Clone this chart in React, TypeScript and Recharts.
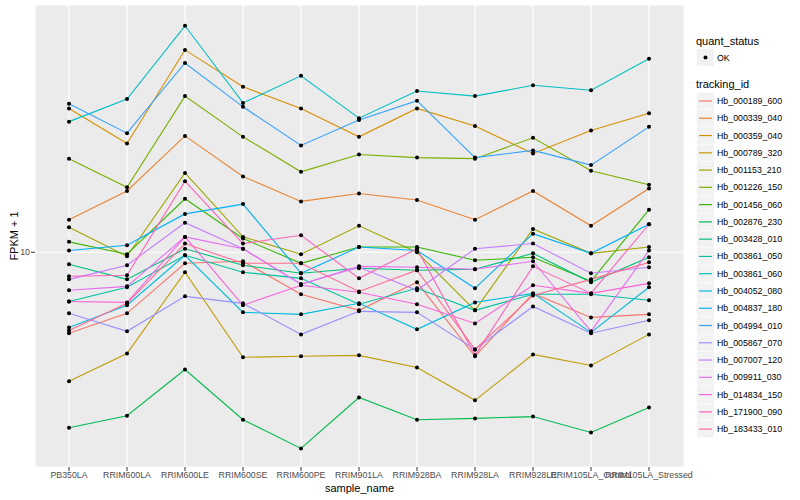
import React from 'react';
import { LineChart, Line, XAxis, YAxis, CartesianGrid } from 'recharts';

const samples = [
  'PB350LA',
  'RRIM600LA',
  'RRIM600LE',
  'RRIM600SE',
  'RRIM600PE',
  'RRIM901LA',
  'RRIM928BA',
  'RRIM928LA',
  'RRIM928LE',
  'RRIM105LA_Control',
  'RRIM105LA_Stressed',
];

// FPKM + 1, one array per gene, in sample order
const hb000189_600 = [6.35, 7.1, 9.4, 9.51, 7.9, 7.22, 8.45, 5.58, 7.94, 6.94, 7.06];
const hb000339_040 = [12.0, 14.1, 19.2, 15.3, 13.3, 13.9, 13.4, 12.0, 14.1, 11.6, 14.3];
const hb000359_040 = [22.4, 18.4, 31.1, 25.3, 22.4, 19.1, 22.4, 20.3, 17.4, 19.8, 21.8];
const hb000789_320 = [4.85, 5.67, 8.94, 5.55, 5.58, 5.61, 5.24, 4.36, 5.64, 5.3, 6.31];
const hb001153_210 = [11.5, 9.78, 15.6, 10.9, 9.89, 11.6, 10.0, 7.22, 11.4, 9.94, 10.3];
const hb001226_150 = [16.9, 14.4, 24.0, 19.1, 15.7, 17.3, 17.0, 16.9, 19.0, 15.8, 14.6];
const hb001456_060 = [10.6, 9.89, 13.5, 10.8, 9.4, 10.3, 10.3, 9.56, 9.72, 8.5, 12.7];
const hb002876_230 = [3.74, 4.0, 5.18, 3.91, 3.33, 4.43, 3.91, 3.94, 3.98, 3.64, 4.19];
const hb003428_010 = [9.35, 8.59, 10.2, 9.3, 8.89, 9.14, 9.04, 9.09, 9.94, 8.45, 9.72];
const hb003861_050 = [7.59, 8.22, 9.83, 8.94, 8.64, 7.47, 8.17, 7.22, 7.9, 7.9, 7.64];
const hb003861_060 = [20.8, 23.6, 35.6, 23.1, 26.9, 21.2, 24.7, 24.0, 25.5, 24.8, 29.6];
const hb004052_080 = [6.56, 7.43, 9.83, 7.14, 7.06, 7.51, 6.49, 7.55, 7.94, 6.38, 8.22];
const hb004837_180 = [10.1, 10.4, 12.4, 13.1, 8.89, 10.3, 10.1, 8.17, 11.1, 9.94, 11.7];
const hb004994_010 = [23.0, 19.5, 28.9, 22.6, 18.2, 21.0, 23.4, 17.0, 17.7, 16.3, 20.2];
const hb005867_070 = [7.1, 6.42, 7.81, 7.51, 6.31, 7.18, 7.14, 5.8, 7.38, 6.35, 6.83];
const hb007007_120 = [8.59, 9.3, 11.8, 10.2, 8.36, 9.19, 8.08, 10.2, 10.5, 8.89, 9.19];
const hb009911_030 = [8.08, 8.26, 10.9, 10.2, 8.36, 9.24, 9.19, 9.09, 9.51, 6.42, 10.1];
const hb014834_150 = [7.59, 7.55, 10.9, 7.43, 8.31, 7.99, 7.47, 6.71, 8.31, 7.94, 8.4];
const hb171900_090 = [8.74, 8.79, 14.9, 10.5, 11.0, 8.64, 10.2, 5.61, 9.24, 7.94, 11.7];
const hb183433_010 = [6.45, 7.51, 10.5, 9.4, 9.4, 8.03, 9.04, 5.8, 7.85, 8.59, 9.45];

const series = [
  { id: 'Hb_000189_600', values: hb000189_600, color: '#F8766D' },
  { id: 'Hb_000339_040', values: hb000339_040, color: '#EA8331' },
  { id: 'Hb_000359_040', values: hb000359_040, color: '#D89000' },
  { id: 'Hb_000789_320', values: hb000789_320, color: '#C09B00' },
  { id: 'Hb_001153_210', values: hb001153_210, color: '#A3A500' },
  { id: 'Hb_001226_150', values: hb001226_150, color: '#7CAE00' },
  { id: 'Hb_001456_060', values: hb001456_060, color: '#39B600' },
  { id: 'Hb_002876_230', values: hb002876_230, color: '#00BB4E' },
  { id: 'Hb_003428_010', values: hb003428_010, color: '#00BF7D' },
  { id: 'Hb_003861_050', values: hb003861_050, color: '#00C1A3' },
  { id: 'Hb_003861_060', values: hb003861_060, color: '#00BFC4' },
  { id: 'Hb_004052_080', values: hb004052_080, color: '#00BAE0' },
  { id: 'Hb_004837_180', values: hb004837_180, color: '#00B0F6' },
  { id: 'Hb_004994_010', values: hb004994_010, color: '#35A2FF' },
  { id: 'Hb_005867_070', values: hb005867_070, color: '#9590FF' },
  { id: 'Hb_007007_120', values: hb007007_120, color: '#C77CFF' },
  { id: 'Hb_009911_030', values: hb009911_030, color: '#E76BF3' },
  { id: 'Hb_014834_150', values: hb014834_150, color: '#FA62DB' },
  { id: 'Hb_171900_090', values: hb171900_090, color: '#FF62BC' },
  { id: 'Hb_183433_010', values: hb183433_010, color: '#FF6C91' },
];

const yTicks = [10];

const chartData = samples.map((sample, i) => {
  const row: Record<string, string | number> = { sample };
  series.forEach((s) => {
    row[s.id] = s.values[i];
  });
  return row;
});

const FONT = '"Liberation Sans", Arial, Helvetica, sans-serif';

const YTitle = () => (
  <text
    x={14}
    y={236}
    transform='rotate(-90 14 236)'
    textAnchor='middle'
    dominantBaseline='central'
    fontSize={11}
    fill='#000'
    fontFamily={FONT}
  >
    FPKM + 1
  </text>
);

const XTitle = () => (
  <text x={359.5} y={488} textAnchor='middle' dominantBaseline='central' fontSize={11} fill='#000' fontFamily={FONT}>
    sample_name
  </text>
);

const LegendPanel = () => (
  <svg width={110} height={450} style={{ position: 'absolute', left: 690, top: 0 }}>
    <g fontFamily={FONT}>
      <text x={6} y={41} fontSize={11} dominantBaseline='central'>quant_status</text>
      <rect x={7} y={49} width={17} height={17} fill='#F2F2F2' />
      <circle cx={15.5} cy={57.5} r={2} fill='#000' />
      <text x={27} y={57.5} fontSize={8.8} dominantBaseline='central'>OK</text>
      <text x={6} y={84} fontSize={11} dominantBaseline='central'>tracking_id</text>
      {series.map((s, i) => {
        const cy = 101 + i * 17.27;
        return (
          <g key={s.id}>
            <rect x={7} y={cy - 8.3} width={17} height={16.6} fill='#F2F2F2' />
            <line x1={9} x2={22} y1={cy} y2={cy} stroke={s.color} strokeWidth={1.2} />
            <text x={27} y={cy} fontSize={8.8} dominantBaseline='central'>{s.id}</text>
          </g>
        );
      })}
    </g>
  </svg>
);

const App: React.FC = () => {
  return (
    <div style={{ position: 'absolute', left: 0, top: 0, width: 800, height: 500, background: '#fff' }}>
      <LineChart
        width={800}
        height={500}
        data={chartData}
        margin={{ top: 5, right: 116, bottom: 0, left: 0 }}
        style={{ fontFamily: FONT }}
      >
        <CartesianGrid fill='#EBEBEB' stroke='#FFFFFF' strokeWidth={1.1} />
        <XAxis
          dataKey='sample'
          type='category'
          interval={0}
          height={33}
          padding={{ left: 34, right: 35 }}
          axisLine={false}
          tickSize={4}
          tickMargin={1}
          tickLine={{ stroke: '#333333' }}
          tick={{ fill: '#4D4D4D', fontSize: 8.8 }}
          label={<XTitle />}
        />
        <YAxis
          type='number'
          scale='log'
          domain={[3, 40]}
          allowDataOverflow
          ticks={yTicks}
          width={35}
          axisLine={false}
          tickSize={4}
          tickMargin={1}
          tickLine={{ stroke: '#333333' }}
          tick={{ fill: '#4D4D4D', fontSize: 8.8 }}
          label={<YTitle />}
        />
        {series.map((s) => (
          <Line
            key={s.id}
            dataKey={s.id}
            stroke={s.color}
            strokeWidth={1.1}
            dot={false}
            activeDot={false}
            isAnimationActive={false}
          />
        ))}
        {series.map((s) => (
          <Line
            key={`${s.id}-pts`}
            dataKey={s.id}
            stroke='none'
            strokeWidth={0}
            dot={{ r: 2, fill: '#000000', stroke: 'none' }}
            activeDot={false}
            legendType='none'
            isAnimationActive={false}
          />
        ))}
      </LineChart>
      <LegendPanel />
    </div>
  );
};

export default App;
